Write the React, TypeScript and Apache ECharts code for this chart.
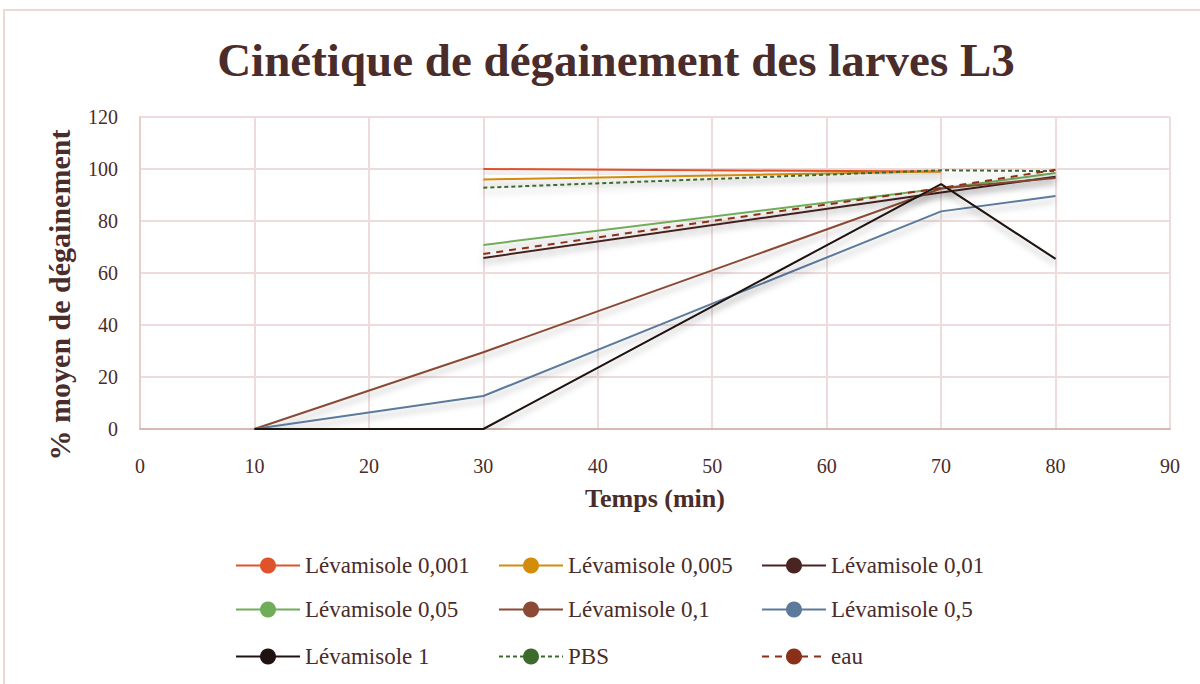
import React, { useEffect, useRef } from "react";
import * as echarts from "echarts";

const times = [10, 30, 70, 80];
const seriesNames = [
  "Lévamisole 0,001",
  "Lévamisole 0,005",
  "Lévamisole 0,01",
  "Lévamisole 0,05",
  "Lévamisole 0,1",
  "Lévamisole 0,5",
  "Lévamisole 1",
  "PBS",
  "eau",
];
const lev0001 = [null, 100, 99, null];
const lev0005 = [null, 96, 99, null];
const lev001 = [null, 65.8, 91, 97];
const lev005 = [null, 70.8, 92.5, 98.5];
const lev01 = [0, 29.5, 92.5, 96.5];
const lev05 = [0, 12.7, 83.7, 89.6];
const lev1 = [0, 0, 94.2, 65.4];
const pbs = [null, 92.8, 99.5, 99.2];
const eau = [null, 67.3, 92.7, 99.7];
const seriesValues = [lev0001, lev0005, lev001, lev005, lev01, lev05, lev1, pbs, eau];
const xTicks = [0, 10, 20, 30, 40, 50, 60, 70, 80, 90];
const yTicks = [0, 20, 40, 60, 80, 100, 120];

const colors = ["#e0522a", "#d48c0c", "#4a2420", "#70ad5a", "#8b4a35", "#5b7a9c", "#1f1210", "#3d6b2e", "#8b3018"];
const dashes: (number[] | "solid")[] = ["solid", "solid", "solid", "solid", "solid", "solid", "solid", [4, 3], [7, 6]];

const FONT = "'Liberation Serif', 'DejaVu Serif', serif";
const TXT = "#4a2c2a";

export default function App() {
  const ref = useRef<HTMLDivElement>(null);
  useEffect(() => {
    if (!ref.current) return;
    const chart = echarts.init(ref.current, null, { renderer: "svg" });
    const legendLefts = [230, 493, 756];
    const legendTops = [549, 593, 640];
    const legends = seriesNames.map((n, i) => ({
      data: [n],
      left: legendLefts[i % 3],
      top: legendTops[Math.floor(i / 3)],
      itemWidth: 64,
      itemHeight: 20,
      itemGap: 5,
      textStyle: { fontFamily: FONT, fontSize: 23, color: TXT },
    }));
    const series = seriesNames.map((n, i) => ({
      name: n,
      type: "line",
      data: times.map((t, j) => [t, seriesValues[i][j]]),
      symbol: "circle",
      symbolSize: 14,
      showSymbol: false,
      connectNulls: false,
      itemStyle: { color: colors[i] },
      lineStyle: {
        color: colors[i],
        width: 2,
        type: dashes[i],
        shadowColor: "rgba(0,0,0,0.28)",
        shadowBlur: 6,
        shadowOffsetY: 5,
      },
      emphasis: { disabled: true },
    }));
    chart.setOption({
      animation: false,
      backgroundColor: "#ffffff",
      title: {
        text: "Cinétique de dégainement des larves L3",
        left: 611,
        textAlign: "center",
        top: 31,
        textStyle: { fontFamily: FONT, fontSize: 47, fontWeight: "bold", color: TXT },
      },
      legend: legends,
      grid: { left: 140, right: 30, top: 117, bottom: 255, containLabel: false },
      xAxis: {
        type: "value",
        min: xTicks[0],
        max: xTicks[xTicks.length - 1],
        interval: 10,
        name: "Temps (min)",
        nameLocation: "middle",
        nameGap: 56,
        nameTextStyle: { fontFamily: FONT, fontSize: 26, fontWeight: "bold", color: TXT },
        axisLine: { show: true, lineStyle: { color: "#d9b9b2", width: 2 } },
        axisTick: { show: false },
        axisLabel: { margin: 27, fontFamily: FONT, fontSize: 20, color: TXT },
        splitLine: { show: true, lineStyle: { color: "#eddcdb", width: 2 } },
      },
      yAxis: {
        type: "value",
        min: yTicks[0],
        max: yTicks[yTicks.length - 1],
        interval: 20,
        name: "% moyen de dégainement",
        nameLocation: "middle",
        nameGap: 66,
        nameTextStyle: {
          fontFamily: FONT,
          fontSize: 30,
          fontWeight: "bold",
          color: TXT,
          padding: [0, 44, 0, 0],
        },
        axisLine: { show: true, lineStyle: { color: "#e6cfca", width: 2 } },
        axisTick: { show: false },
        axisLabel: { margin: 22, fontFamily: FONT, fontSize: 20, color: TXT },
        splitLine: { show: true, lineStyle: { color: "#eddcdb", width: 2 } },
      },
      graphic: [
        {
          type: "rect",
          shape: { x: 4, y: 10, width: 1210, height: 690 },
          style: { fill: "none", stroke: "#ead9d5", lineWidth: 2 },
          silent: true,
        },
      ],
      series,
    });
    return () => chart.dispose();
  }, []);
  return <div ref={ref} style={{ position: "fixed", left: 0, top: 0, width: 1200, height: 684 }} />;
}
